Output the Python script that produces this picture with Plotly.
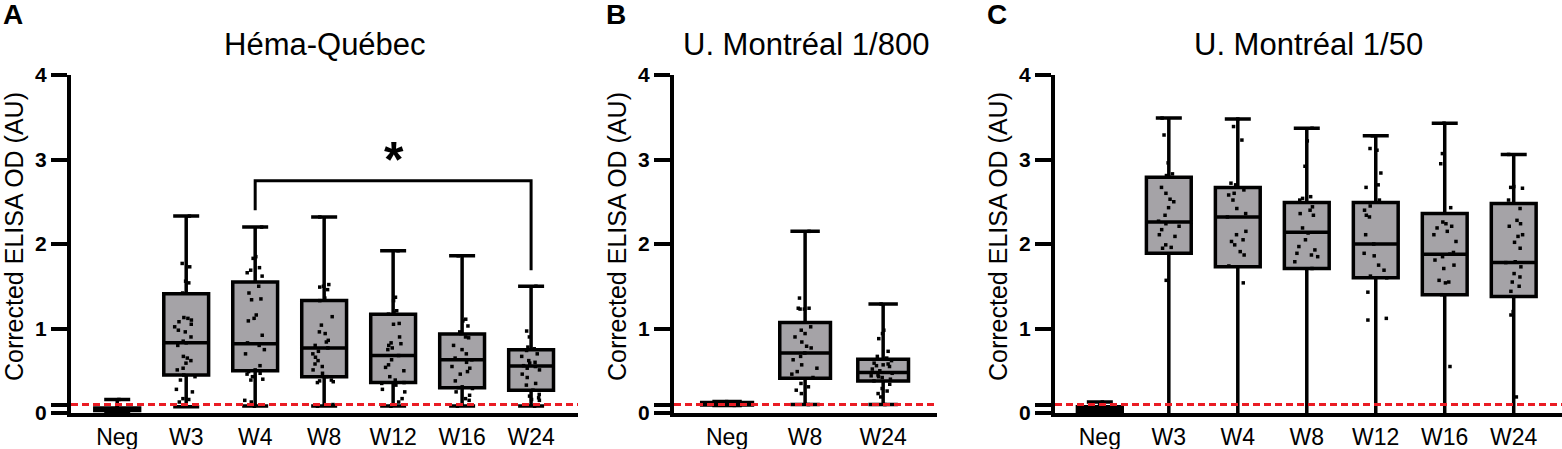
import plotly.graph_objects as go

# ---- data (corrected ELISA OD, AU) ----
cats_a = ["Neg", "W3", "W4", "W8", "W12", "W16", "W24"]
cats_b = ["Neg", "W8", "W24"]
cats_c = ["Neg", "W3", "W4", "W8", "W12", "W16", "W24"]

# box stats: min / q1 / median / q3 / max  (whiskers = min to max)
a_min = [0.02, 0.075, 0.083, 0.083, 0.083, 0.083, 0.083]
a_q1 = [0.03, 0.45, 0.50, 0.43, 0.36, 0.30, 0.27]
a_med = [0.045, 0.83, 0.82, 0.77, 0.68, 0.63, 0.556]
a_q3 = [0.06, 1.41, 1.55, 1.33, 1.17, 0.935, 0.75]
a_max = [0.16, 2.33, 2.20, 2.32, 1.92, 1.86, 1.50]

b_min = [0.09, 0.10, 0.10]
b_q1 = [0.095, 0.41, 0.38]
b_med = [0.11, 0.71, 0.48]
b_q3 = [0.125, 1.07, 0.635]
b_max = [0.135, 2.15, 1.29]

# lower whiskers of the week groups run down past the axis
c_min = [0.01, -0.05, -0.05, -0.05, -0.05, -0.05, -0.05]
c_q1 = [0.02, 1.89, 1.73, 1.71, 1.60, 1.40, 1.38]
c_med = [0.04, 2.26, 2.32, 2.14, 2.00, 1.88, 1.78]
c_q3 = [0.075, 2.79, 2.67, 2.49, 2.49, 2.36, 2.48]
c_max = [0.13, 3.49, 3.48, 3.37, 3.28, 3.43, 3.06]

# individual samples
a_pts = {
    "Neg": [0.16, 0.06, 0.05, 0.05, 0.04, 0.03, 0.03, 0.02],
    "W3": [2.33, 1.77, 1.73, 1.56, 1.54, 1.42, 1.13, 1.12, 1.10, 1.08, 1.05, 1.02, 0.98, 0.96, 0.90,
           0.85, 0.83, 0.80, 0.67, 0.65, 0.62, 0.59, 0.53, 0.51, 0.45, 0.43, 0.39, 0.28, 0.25, 0.17,
           0.16, 0.13, 0.08],
    "W4": [2.20, 1.85, 1.83, 1.72, 1.69, 1.66, 1.62, 1.50, 1.42, 1.35, 1.34, 1.16, 1.12, 1.09, 0.92,
           0.83, 0.80, 0.75, 0.70, 0.56, 0.51, 0.49, 0.47, 0.46, 0.43, 0.40, 0.39, 0.15, 0.13, 0.08],
    "W8": [2.32, 1.52, 1.50, 1.49, 1.46, 1.36, 1.33, 1.14, 1.04, 0.96, 0.94, 0.86, 0.84, 0.80, 0.77,
           0.73, 0.70, 0.66, 0.62, 0.58, 0.55, 0.51, 0.47, 0.43, 0.39, 0.38, 0.37, 0.36, 0.10, 0.08],
    "W12": [1.92, 1.37, 1.33, 1.21, 1.19, 1.17, 1.06, 1.05, 0.90, 0.83, 0.82, 0.80, 0.77, 0.75, 0.68,
            0.63, 0.57, 0.54, 0.50, 0.43, 0.39, 0.36, 0.35, 0.33, 0.28, 0.25, 0.17, 0.13, 0.08],
    "W16": [1.86, 1.11, 1.09, 1.03, 0.96, 0.94, 0.90, 0.89, 0.80, 0.75, 0.70, 0.65, 0.63, 0.60, 0.55,
            0.53, 0.49, 0.46, 0.38, 0.31, 0.30, 0.29, 0.25, 0.21, 0.17, 0.15, 0.08],
    "W24": [1.50, 0.97, 0.90, 0.78, 0.76, 0.74, 0.70, 0.67, 0.62, 0.60, 0.59, 0.56, 0.55, 0.53, 0.51,
            0.46, 0.42, 0.35, 0.33, 0.27, 0.22, 0.20, 0.18, 0.16, 0.15, 0.08],
}
b_pts = {
    "Neg": [0.135, 0.12, 0.11, 0.11, 0.10, 0.10, 0.09],
    "W8": [2.15, 1.36, 1.24, 1.24, 1.23, 1.23, 1.02, 0.98, 0.94, 0.90, 0.84, 0.79, 0.77, 0.71, 0.67,
           0.63, 0.57, 0.53, 0.49, 0.46, 0.42, 0.35, 0.31, 0.27, 0.23, 0.10],
    "W24": [1.29, 0.98, 0.94, 0.88, 0.73, 0.67, 0.65, 0.62, 0.59, 0.58, 0.57, 0.56, 0.55, 0.52, 0.50,
            0.47, 0.45, 0.44, 0.43, 0.42, 0.40, 0.38, 0.34, 0.29, 0.26, 0.23, 0.19, 0.10],
}
c_pts = {
    "Neg": [0.13, 0.08, 0.06, 0.05, 0.04, 0.03, 0.02, 0.01],
    "W3": [3.49, 3.29, 2.96, 2.83, 2.81, 2.79, 2.67, 2.60, 2.53, 2.50, 2.43, 2.34, 2.27, 2.24, 2.21,
           2.17, 2.11, 2.09, 1.99, 1.96, 1.95, 1.57],
    "W4": [3.48, 3.39, 3.23, 2.72, 2.70, 2.64, 2.60, 2.58, 2.52, 2.42, 2.36, 2.32, 2.15, 2.11, 2.05,
           2.03, 1.99, 1.91, 1.87, 1.74, 1.54],
    "W8": [3.37, 3.22, 2.92, 2.56, 2.54, 2.52, 2.44, 2.40, 2.36, 2.34, 2.19, 2.13, 2.05, 1.97, 1.93,
           1.89, 1.87, 1.85, 1.79, 1.71],
    "W12": [3.28, 3.13, 3.11, 2.84, 2.70, 2.67, 2.52, 2.45, 2.40, 2.34, 2.32, 2.11, 2.00, 1.89, 1.86,
            1.75, 1.69, 1.62, 1.60, 1.43, 1.12, 1.10],
    "W16": [3.43, 3.07, 2.95, 2.43, 2.26, 2.24, 2.21, 2.19, 2.15, 2.11, 2.03, 1.90, 1.88, 1.85, 1.81,
            1.75, 1.71, 1.57, 1.55, 1.54, 1.40, 0.55],
    "W24": [3.06, 2.68, 2.67, 2.66, 2.52, 2.42, 2.28, 2.24, 2.21, 2.11, 2.09, 2.02, 1.95, 1.79, 1.78,
            1.73, 1.65, 1.61, 1.55, 1.50, 1.44, 1.20, 1.16, 0.19],
}

titles = ["Héma-Québec", "U. Montréal 1/800", "U. Montréal 1/50"]
letters = ["A", "B", "C"]
cutoff = 0.1

# W4 vs W24 significance bracket (panel A)
bracket_x = ["W4", "W4", "W24", "W24"]
bracket_y = [2.40, 2.75, 2.75, 1.69]
star_y = 3.0

FONT = "Liberation Sans, Arial, sans-serif"
BOX_FILL = "#a5a3a7"
W, H = 1562, 449

panels = [
    (cats_a, a_min, a_q1, a_med, a_q3, a_max, a_pts),
    (cats_b, b_min, b_q1, b_med, b_q3, b_max, b_pts),
    (cats_c, c_min, c_q1, c_med, c_q3, c_max, c_pts),
]
y_axis_px = [71, 674, 1055]   # where each y axis sits
x_domains = [[71 / W, 578 / W], [674 / W, 937 / W], [1055 / W, 1.0]]
x_ranges = [[-0.67, 6.68], [-0.68, 2.69], [-0.65, 6.70]]
y_domain = [1 - 413 / H, 1 - 75 / H]

fig = go.Figure()

for k, (cats, lo, q1, med, q3, hi, pts) in enumerate(panels):
    xa = "x" if k == 0 else "x%d" % (k + 1)
    ya = "y" if k == 0 else "y%d" % (k + 1)
    # the boxes, min-to-max whiskers
    fig.add_trace(go.Box(
        x=cats, q1=q1, median=med, q3=q3, lowerfence=lo, upperfence=hi,
        xaxis=xa, yaxis=ya, width=0.65, whiskerwidth=0.58,
        fillcolor=BOX_FILL, line=dict(color="black", width=3.5),
        boxpoints=False, showlegend=False, hoverinfo="skip",
    ))
    # the individual samples on top
    xs, ys = [], []
    for c in cats:
        xs += [c] * len(pts[c])
        ys += pts[c]
    fig.add_trace(go.Box(
        x=xs, y=ys, xaxis=xa, yaxis=ya, width=0.65,
        boxpoints="all", jitter=0.55, pointpos=0,
        fillcolor="rgba(0,0,0,0)", line=dict(color="rgba(0,0,0,0)", width=0),
        marker=dict(color="black", symbol="square", size=3.5),
        showlegend=False, hoverinfo="skip",
    ))

# bracket
fig.add_trace(go.Scatter(
    x=bracket_x, y=bracket_y, mode="lines", xaxis="x", yaxis="y",
    line=dict(color="black", width=3), showlegend=False, hoverinfo="skip",
))

axis_common = dict(showgrid=False, zeroline=False, showline=True, linecolor="black",
                   linewidth=4, automargin=False)
layout = dict(
    template="none",
    width=W, height=H,
    margin=dict(l=0, r=0, t=0, b=0, pad=0),
    paper_bgcolor="white", plot_bgcolor="white",
    boxmode="overlay",
    font=dict(family=FONT, color="black"),
)
for k, cats in enumerate([cats_a, cats_b, cats_c]):
    sx = "" if k == 0 else str(k + 1)
    layout["xaxis" + sx] = dict(
        axis_common, domain=x_domains[k], anchor="y" + sx, type="category",
        categoryorder="array", categoryarray=cats, range=x_ranges[k],
        ticks="", tickfont=dict(size=23, family=FONT, color="black"),
    )
    layout["yaxis" + sx] = dict(
        axis_common, domain=y_domain, anchor="x" + sx, range=[0, 4],
        tickvals=[0, cutoff, 1, 2, 3, 4], ticktext=["0", "", "1", "2", "3", "4"],
        ticks="outside", ticklen=16, tickwidth=3.5, tickcolor="black",
        tickfont=dict(size=21, family=FONT, color="black", weight="bold"),
    )
fig.update_layout(**layout)

# red dashed cutoff line in every panel
for k in range(3):
    sx = "" if k == 0 else str(k + 1)
    fig.add_shape(type="line", xref="x%s domain" % sx, yref="y" + sx,
                  x0=0, x1=1, y0=cutoff, y1=cutoff, layer="above",
                  line=dict(color="#ea1c24", width=3, dash="7px,4px"))

# titles, panel letters, y-axis titles (anchors set explicitly, 'auto' shifts them)
for k in range(3):
    sx = "" if k == 0 else str(k + 1)
    fig.add_annotation(text=titles[k], xref="x%s domain" % sx, x=0.5, yref="paper", y=1 - 44 / H,
                       xanchor="center", yanchor="middle", showarrow=False,
                       font=dict(size=31, family=FONT))
    fig.add_annotation(text="<b>%s</b>" % letters[k], xref="paper", x=(y_axis_px[k] - 58) / W,
                       yref="paper", y=1 - 15 / H, xanchor="center", yanchor="middle",
                       showarrow=False, font=dict(size=28, family=FONT))
    fig.add_annotation(text="Corrected ELISA OD (AU)", textangle=-90, xref="paper",
                       x=(y_axis_px[k] - 57) / W, yref="paper", y=1 - 237 / H,
                       xanchor="center", yanchor="middle", showarrow=False,
                       font=dict(size=25, family=FONT))

# significance star
fig.add_annotation(text="<b>*</b>", xref="paper", x=(y_axis_px[0] + 323) / W,
                   yref="y", y=star_y, xanchor="center", yanchor="middle", showarrow=False,
                   font=dict(size=50, family=FONT))

# drop the default page margin so the figure fills the window exactly
fig.write_html("out.html", config={"displayModeBar": False},
               post_script="document.body.style.margin='0px';")
